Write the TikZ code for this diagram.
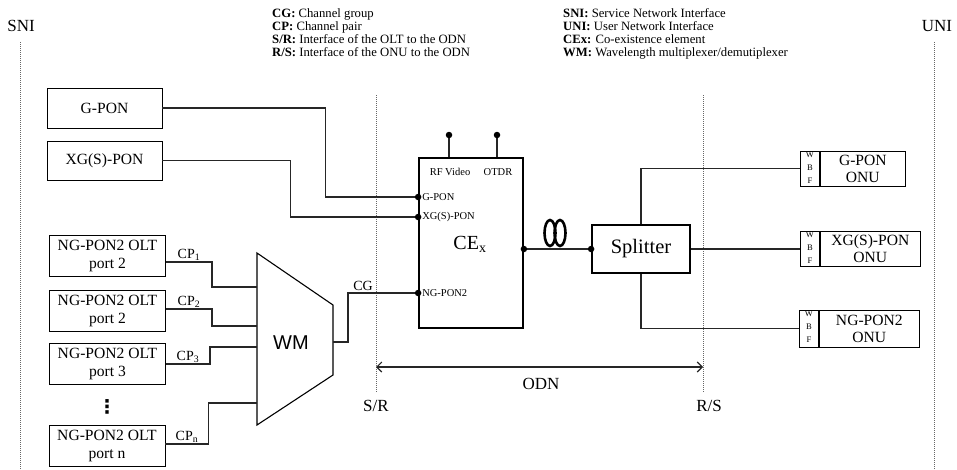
\documentclass[tikz,border=0pt]{standalone}
\usepackage{fontspec}
\setmainfont{Liberation Serif}
\newfontfamily\sansf{Liberation Sans}
\newfontfamily\dejavu{DejaVu Sans}
\usetikzlibrary{calc,arrows.meta}
\newcommand\fsz[2]{\fontsize{#1pt}{#2pt}\selectfont}
\begin{document}
\begin{tikzpicture}[x=1pt,y=-1pt,
  box/.style={draw, line width=0.9pt, inner sep=0pt, align=center, font=\fsz{15.6}{18.5}},
  oltbox/.style={box, minimum width=116pt, minimum height=41pt},
  conn/.style={line width=1.1pt, draw=black!85},
  bdry/.style={draw=black!60, line width=0.8pt, dash pattern=on 1pt off 1pt},
  portdot/.style={circle, fill=black, inner sep=0pt, minimum size=6.5pt},
  portlab/.style={font=\fsz{10.5}{12}, inner sep=1pt},
  cplab/.style={font=\fsz{14}{14}, inner sep=1pt},
  biglab/.style={font=\fsz{17}{17}, inner sep=0pt},
  thickbox/.style={draw, line width=1.8pt, inner sep=0pt},
  wbfbox/.style={draw, line width=0.9pt, minimum width=19pt, anchor=west, inner sep=0pt},
  onubox/.style={draw, line width=0.9pt, anchor=west, inner sep=0pt, align=center, font=\fsz{15.6}{17}},
  wbftext/.style={font=\fsz{8.5}{13}, align=center, anchor=north, inner sep=0pt},
  legend/.style={anchor=north west, align=left, font=\fsz{12.7}{13.2}, inner sep=0pt}
]
\useasboundingbox (0,0) rectangle (957,469);

% legend
\node[legend] (leg1) at (272,8) {\textbf{CG:} Channel group\\\textbf{CP:} Channel pair\\\textbf{S/R:} Interface of the OLT to the ODN\\\textbf{R/S:} Interface of the ONU to the ODN};
\node[legend] (leg2) at (563,8) {\textbf{SNI:} Service Network Interface\\\textbf{UNI:} User Network Interface\\\textbf{CEx:} Co-existence element\\\textbf{WM:} Wavelength multiplexer/demutiplexer};

% boundaries
\coordinate (sniT) at (20,42); \coordinate (sniB) at (20,469);
\coordinate (uniT) at (934,42); \coordinate (uniB) at (934,469);
\coordinate (srT) at (376,95); \coordinate (srB) at (376,393);
\coordinate (rsT) at (703,95); \coordinate (rsB) at (703,393);
\draw[bdry] (sniT) -- (sniB);
\draw[bdry] (uniT) -- (uniB);
\draw[bdry] (srT) -- (srB);
\draw[bdry] (rsT) -- (rsB);
\node[biglab] (snil) at (21,26) {SNI};
\node[biglab] (unil) at (937,26) {UNI};
\node[biglab] (srl) at (376,406) {S/R};
\node[biglab] (rsl) at (709,406) {R/S};
\node[biglab] (odnl) at (541,384) {ODN};
\coordinate (odnL) at (srT |- 0,367);
\coordinate (odnR) at (rsT |- 0,367);
\draw[conn, {Straight Barb[length=5pt,width=10pt]}-{Straight Barb[length=5pt,width=10pt]}] (odnL) -- (odnR);

% OLT side boxes
\node[box, minimum width=115pt, minimum height=40pt] (gpon) at (104.5,108) {G-PON};
\node[box, minimum width=115pt, minimum height=39pt] (xgpon) at (104.5,160.5) {XG(S)-PON};
\node[oltbox] (olt1) at (107.5,256) {NG-PON2 OLT\\port 2};
\node[oltbox] (olt2) at (107.5,311) {NG-PON2 OLT\\port 2};
\node[oltbox] (olt3) at (107.5,364) {NG-PON2 OLT\\port 3};
\node[oltbox] (olt4) at (107,446) {NG-PON2 OLT\\port n};
\node[font=\dejavu\bfseries\fsz{19}{19}, inner sep=0pt] (vd) at (107,407) {⋮};

% WM
\coordinate (wm1) at (257,253); \coordinate (wm2) at (333,305);
\coordinate (wm3) at (333,375); \coordinate (wm4) at (257,425);
\draw[line width=1.1pt] (wm1) -- (wm2) -- (wm3) -- (wm4) -- cycle;
\node[font=\sansf\fsz{20}{20}, inner sep=0pt] (wm) at (291,343) {WM};
\coordinate (in1) at (257,287); \coordinate (in2) at (257,326);
\coordinate (in3) at (257,347); \coordinate (in4) at (257,403);
\coordinate (wmo) at (333,342);

% CE
\node[thickbox, minimum width=104pt, minimum height=170pt] (ce) at (471,243) {};
\node[font=\fsz{20}{20}, inner sep=0pt] (cel) at (470,244) {CE\textsubscript{x}};
\coordinate (pG) at (ce.west |- 0,197);
\coordinate (pX) at (ce.west |- 0,217);
\coordinate (pN) at (ce.west |- 0,293);
\coordinate (rfb) at (ce.north -| 449,0); \coordinate (rft) at (449,135);
\coordinate (otb) at (ce.north -| 497,0); \coordinate (ott) at (497,135);
\node[portlab] (lrf) at (450,172) {RF Video};
\node[portlab] (lot) at (498,172) {OTDR};
\node[portlab, anchor=west] (lG) at ([xshift=3pt]pG) {G-PON};
\node[portlab, anchor=west] (lX) at ([xshift=3pt]pX) {XG(S)-PON};
\node[portlab, anchor=west] (lN) at ([xshift=3pt]pN) {NG-PON2};

% Splitter
\node[thickbox, minimum width=98pt, minimum height=48pt, font=\fsz{20.5}{20.5}] (spl) at (641,249) {Splitter};
\coordinate (pO) at (ce.east |- spl.west);

% ONUs
\node[wbfbox, minimum height=35pt] (wbf1) at (800,168.5) {};
\node[onubox, minimum width=85pt, minimum height=35pt] (onu1) at (wbf1.east) {G-PON\\ONU};
\node[wbfbox, minimum height=35pt] (wbf2) at (800,249) {};
\node[onubox, minimum width=100pt, minimum height=35pt] (onu2) at (wbf2.east) {XG(S)-PON\\ONU};
\node[wbfbox, minimum height=37pt] (wbf3) at (799,328.5) {};
\node[onubox, minimum width=100pt, minimum height=37pt] (onu3) at (wbf3.east) {NG-PON2\\ONU};
\foreach \w in {wbf1,wbf2,wbf3}{
  \begin{scope}
    \clip (\w.south west) rectangle (\w.north east);
    \node[wbftext] (\w t) at ([yshift=-1pt]\w.north) {W\\B\\F};
  \end{scope}
}

% connectors
\draw[conn] (gpon.east) -- ++(163,0) |- (pG);
\draw[conn] (xgpon.east) -- ++(128,0) |- (pX);
\draw[conn] ([yshift=-6pt]olt1.east) -- node[above, cplab] {CP\textsubscript{1}} ++(46,0) |- (in1);
\draw[conn] ([yshift=2pt]olt2.east) -- node[above, cplab] {CP\textsubscript{2}} ++(46,0) |- (in2);
\draw[conn] (olt3.east) -- node[above, cplab] {CP\textsubscript{3}} ++(44,0) |- (in3);
\draw[conn] ([yshift=2pt]olt4.east) -- node[above, cplab] {CP\textsubscript{n}} ++(43,0) |- (in4);
\draw[conn] (wmo) -- ++(15,0) |- (pN);
\node[cplab, anchor=south] (cg) at (363,292) {CG};
\draw[conn] (rfb) -- (rft);
\draw[conn] (otb) -- (ott);
\draw[conn] (pO) -- (spl.west);
\draw[conn] (spl.north) |- (wbf1.west);
\draw[conn] (spl.east) -- (wbf2.west);
\draw[conn] (spl.south) |- (wbf3.west);

% coil
\draw[line width=2.6pt] (550,233) ellipse (5.5pt and 13pt);
\draw[line width=2.6pt] (560,233) ellipse (5.5pt and 13pt);

% dots
\node[portdot] (dG) at (pG) {};
\node[portdot] (dX) at (pX) {};
\node[portdot] (dN) at (pN) {};
\node[portdot] (dO) at (pO) {};
\node[portdot] (dS) at (spl.west) {};
\node[portdot] (dR) at (rft) {};
\node[portdot] (dT) at (ott) {};
\end{tikzpicture}
\end{document}
